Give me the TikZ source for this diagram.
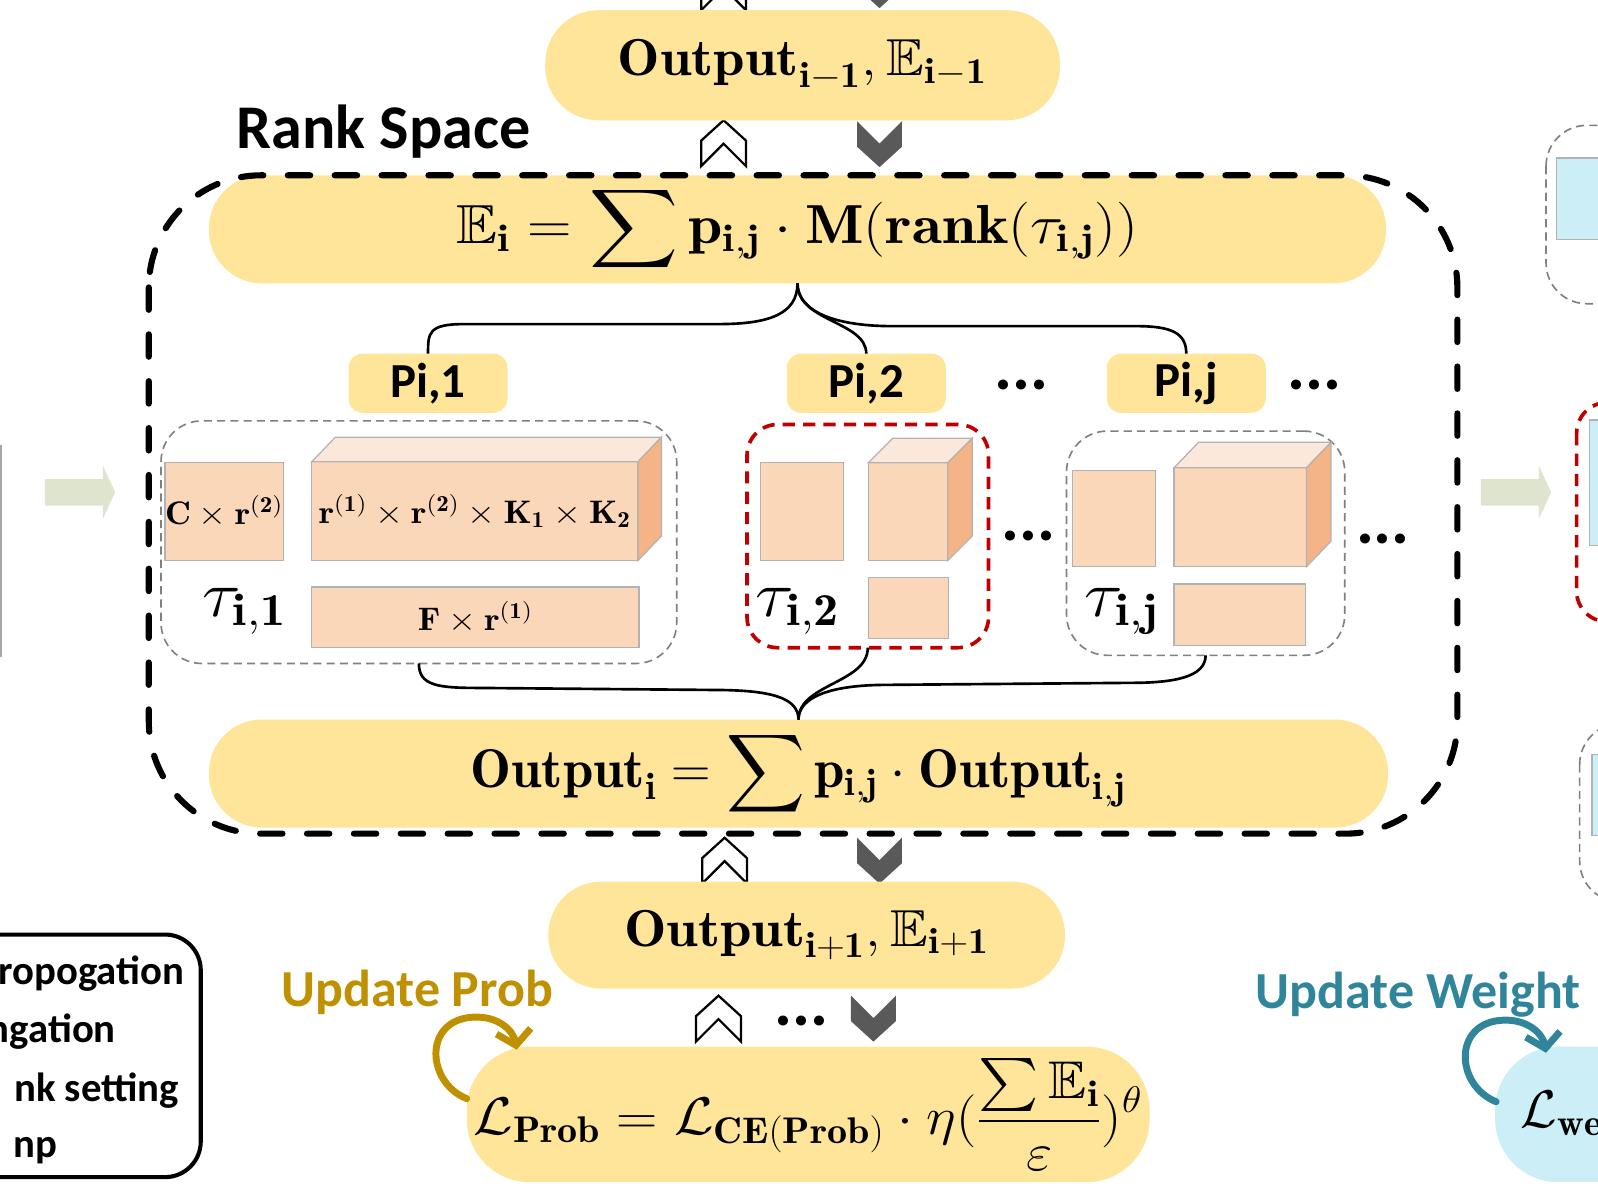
\RequirePackage{fix-cm}
\documentclass[tikz,border=0pt]{standalone}
\usepackage{graphicx}
\usepackage{amssymb}
\usepackage{fontspec}
\setsansfont{Carlito}
\usetikzlibrary{arrows.meta}

\newlength{\du}
\setlength{\du}{0.5pt}

\definecolor{pillyellow}{RGB}{255,229,153}
\definecolor{tensorfront}{RGB}{250,215,185}
\definecolor{tensortop}{RGB}{252,232,218}
\definecolor{tensorside}{RGB}{245,180,135}
\definecolor{tensorline}{RGB}{178,178,178}
\definecolor{groupgrey}{RGB}{128,128,128}
\definecolor{groupred}{RGB}{192,0,0}
\definecolor{flowsage}{RGB}{222,228,206}
\definecolor{chevgrey}{RGB}{89,89,89}
\definecolor{probgold}{RGB}{191,144,0}
\definecolor{weightteal}{RGB}{49,133,155}
\definecolor{weightblue}{RGB}{204,238,246}

\tikzset{
  pill/.style={fill=pillyellow, rounded corners=52\du, inner sep=0pt, outer sep=0pt},
  pbox/.style={fill=pillyellow, rounded corners=14\du, minimum width=156\du, minimum height=58\du,
    inner sep=0pt, outer sep=0pt, font=\sffamily\bfseries\fontsize{24}{28}\selectfont},
  tensor/.style={fill=tensorfront, draw=tensorline, line width=0.6pt, inner sep=0pt, outer sep=0pt,
    font=\fontsize{16}{18}\selectfont},
  tensortopface/.style={fill=tensortop, draw=tensorline, line width=0.6pt},
  tensorsideface/.style={fill=tensorside, draw=tensorline, line width=0.6pt},
  greygroup/.style={draw=groupgrey, dash pattern=on 4pt off 2.5pt, line width=0.8pt, rounded corners=40\du,
    inner sep=0pt, outer sep=0pt},
  redgroup/.style={draw=groupred, dash pattern=on 6pt off 4pt, line width=1.8pt, rounded corners=30\du,
    inner sep=0pt, outer sep=0pt},
  rankspace/.style={draw=black, line width=3pt, dash pattern=on 11pt off 12pt, line cap=round,
    rounded corners=110\du},
  brace/.style={draw=black, line width=1.3pt},
  taulabel/.style={font=\fontsize{32}{36}\selectfont, inner sep=0pt},
  dotsrow/.style={font=\sffamily\bfseries\fontsize{33}{35}\selectfont, inner sep=0pt},
  probloop/.style={draw=probgold, line width=3.4pt, line cap=round, -{Straight Barb[length=7pt,width=17pt]}},
  weightloop/.style={draw=weightteal, line width=3.4pt, line cap=round, -{Straight Barb[length=7pt,width=17pt]}},
  legendtext/.style={anchor=base east, inner sep=0pt, font=\sffamily\bfseries\fontsize{20}{24}\selectfont},
  chevup/.pic={\filldraw[fill=white, draw=black, line width=1.1pt, line join=miter]
    (-22\du,-45\du) -- (-22\du,-20\du) -- (0\du,0\du) -- (22\du,-20\du) -- (22\du,-45\du) -- (0\du,-23\du) -- cycle;},
  chevdown/.pic={\fill[chevgrey]
    (-22\du,0\du) -- (0\du,-22\du) -- (22\du,0\du) -- (22\du,-25\du) -- (0\du,-45\du) -- (-22\du,-25\du) -- cycle;},
  flowarrow/.pic={\fill[flowsage]
    (0\du,-13\du) -- (57\du,-13\du) -- (57\du,-26\du) -- (69\du,0\du) -- (57\du,26\du) -- (57\du,13\du) -- (0\du,13\du) -- cycle;}
}

\begin{document}
\begin{tikzpicture}
\pgftransformxscale{1.000000}
\pgftransformyscale{-1.000000}
\useasboundingbox (0\du,0\du) rectangle (1568\du,1175\du);

% chevrons between layers
\pic at (710\du,-35\du) {chevup};
\pic at (863\du,-37\du) {chevdown};
\pic at (710\du,118\du) {chevup};
\pic at (863\du,119\du) {chevdown};
\pic at (711\du,822\du) {chevup};
\pic at (863\du,822\du) {chevdown};
\pic at (705\du,977\du) {chevup};
\pic at (857\du,977\du) {chevdown};
\node[dotsrow] (layerdots) at (786\du,1002\du) {...};

% flow arrows
\pic at (44\du,483\du) {flowarrow};
\pic at (1453\du,483\du) {flowarrow};
\draw[groupgrey!70, line width=1pt] (1\du,437\du) -- (1\du,645\du);

% layer nodes
\node[pill, minimum width=505\du, minimum height=108\du, font=\fontsize{25.5}{28}\selectfont] (outprev) at (787.5\du,64\du) {\scalebox{1.09}[1]{$\mathbf{Output}_{\mathbf{i-1}},\mathbb{E}_{\mathbf{i-1}}$}};
\node[anchor=base west, inner sep=0pt, font=\sffamily\bfseries\fontsize{30.5}{34}\selectfont] (ranklabel) at (232\du,146\du) {Rank Space};
\node[pill, minimum width=1155\du, minimum height=106\du, font=\fontsize{27}{30}\selectfont] (esum) at (782.5\du,225\du) {\scalebox{1.12}[1]{$\displaystyle\mathbb{E}_{\mathbf{i}}=\sum\mathbf{p}_{\mathbf{i,j}}\cdot\mathbf{M}\mathbf{(}\mathbf{rank}\mathbf{(}\tau_{\mathbf{i,j}}\mathbf{))}$}};
\node[pill, minimum width=1157\du, minimum height=106\du, font=\fontsize{26.8}{30}\selectfont] (outi) at (783.5\du,759\du) {$\displaystyle\mathbf{Output}_{\mathbf{i}}=\sum\mathbf{p}_{\mathbf{i,j}}\cdot\mathbf{Output}_{\mathbf{i,j}}$};
\node[pill, minimum width=507\du, minimum height=105\du, font=\fontsize{25.5}{28}\selectfont] (outnext) at (791.5\du,917.5\du) {\scalebox{1.09}[1]{$\mathbf{Output}_{\mathbf{i+1}},\mathbb{E}_{\mathbf{i+1}}$}};
\node[pill, rounded corners=62\du, minimum width=670\du, minimum height=133\du, font=\fontsize{26}{28}\selectfont] (lprob) at (793\du,1093.5\du) {\scalebox{1.08}[1]{$\displaystyle\mathcal{L}_{\mathbf{Prob}}=\mathcal{L}_{\mathbf{CE(Prob)}}\cdot\eta(\frac{\sum\mathbb{E}_{\mathbf{i}}}{\varepsilon})^{\theta}$}};

% probabilities
\node[pbox] (pone) at (420\du,376\du) {Pi,1};
\node[pbox] (ptwo) at (850\du,376\du) {Pi,2};
\node[pbox] (pj) at (1164\du,376\du) {Pi,j};
\node[dotsrow] (pdotsa) at (1002\du,378\du) {...};
\node[dotsrow] (pdotsb) at (1290\du,378\du) {...};

% rank settings
\node[greygroup, minimum width=506\du, minimum height=238\du] (gone) at (411\du,532\du) {};
\node[redgroup, minimum width=237\du, minimum height=219\du] (gtwo) at (851.5\du,526\du) {};
\node[greygroup, minimum width=273\du, minimum height=220\du] (gthree) at (1183\du,533\du) {};
\node[dotsrow] (gdotsa) at (1009\du,526\du) {...};
\node[dotsrow] (gdotsb) at (1357\du,529\du) {...};

\node[tensor, minimum width=114\du, minimum height=96\du] (oneleft) at (220\du,502\du) {\scalebox{1.1}[1]{$\mathbf{C}\times\mathbf{r}^{\mathbf{(2)}}$}};
\node[tensor, minimum width=320\du, minimum height=97\du] (onecore) at (466\du,501.5\du) {\raisebox{5\du}{\scalebox{1.1}[1]{$\mathbf{r}^{\mathbf{(1)}}\times\mathbf{r}^{\mathbf{(2)}}\times\mathbf{K}_{\mathbf{1}}\times\mathbf{K}_{\mathbf{2}}$}}};
\fill[tensortopface] (onecore.north west) -- ++(23\du,-24\du) -- ++(320\du,0\du) -- (onecore.north east) -- cycle;
\fill[tensorsideface] (onecore.north east) -- ++(23\du,-24\du) -- ++(0\du,97\du) -- (onecore.south east) -- cycle;
\node[tensor, minimum width=321\du, minimum height=59\du] (oneright) at (466.5\du,605.5\du) {\scalebox{1.1}[1]{$\mathbf{F}\times\mathbf{r}^{\mathbf{(1)}}$}};
\node[taulabel] (tauone) at (240\du,600\du) {\scalebox{1.1}[1]{$\tau_{\mathbf{i,1}}$}};

\node[tensor, minimum width=82\du, minimum height=96\du] (twoleft) at (787\du,502\du) {};
\node[tensor, minimum width=78\du, minimum height=96\du] (twocore) at (891\du,502\du) {};
\fill[tensortopface] (twocore.north west) -- ++(24\du,-24\du) -- ++(78\du,0\du) -- (twocore.north east) -- cycle;
\fill[tensorsideface] (twocore.north east) -- ++(24\du,-24\du) -- ++(0\du,96\du) -- (twocore.south east) -- cycle;
\node[tensor, minimum width=79\du, minimum height=60\du] (tworight) at (891.5\du,596.5\du) {};
\node[taulabel] (tautwo) at (783\du,600\du) {\scalebox{1.1}[1]{$\tau_{\mathbf{i,2}}$}};

\node[tensor, minimum width=82\du, minimum height=94\du] (jleft) at (1093\du,509\du) {};
\node[tensor, minimum width=130\du, minimum height=97\du] (jcore) at (1217\du,507.5\du) {};
\fill[tensortopface] (jcore.north west) -- ++(24\du,-25\du) -- ++(130\du,0\du) -- (jcore.north east) -- cycle;
\fill[tensorsideface] (jcore.north east) -- ++(24\du,-25\du) -- ++(0\du,97\du) -- (jcore.south east) -- cycle;
\node[tensor, minimum width=129\du, minimum height=60\du] (jright) at (1216.5\du,603\du) {};
\node[taulabel] (tauj) at (1101\du,600\du) {\scalebox{1.1}[1]{$\tau_{\mathbf{i,j}}$}};

% braces
\coordinate (topbraceL) at (705\du,318\du);
\coordinate (topbraceLL) at (455\du,318\du);
\coordinate (topbraceR) at (875\du,320\du);
\coordinate (topbraceRR) at (1115\du,320\du);
\draw[brace] (esum.south) .. controls +(0\du,30\du) and +(50\du,0\du) .. (topbraceL) -- (topbraceLL) .. controls +(-35\du,0\du) and +(0\du,-20\du) .. (pone.north);
\draw[brace] (esum.south) .. controls +(0\du,38\du) and +(0\du,-32\du) .. (ptwo.north);
\draw[brace] (esum.south) .. controls +(0\du,30\du) and +(-50\du,0\du) .. (topbraceR) -- (topbraceRR) .. controls +(35\du,0\du) and +(0\du,-20\du) .. (pj.north);

\coordinate (botbraceL) at (470\du,675\du);
\coordinate (botbraceLL) at (700\du,677\du);
\coordinate (botbraceR) at (1110\du,670\du);
\coordinate (botbraceRR) at (870\du,672\du);
\draw[brace] (gone.south) .. controls +(0\du,22\du) and +(-40\du,0\du) .. (botbraceL) -- (botbraceLL) .. controls +(55\du,0\du) and +(0\du,-22\du) .. (outi.north);
\draw[brace] (gtwo.south) .. controls +(0\du,35\du) and +(0\du,-35\du) .. (outi.north);
\draw[brace] (gthree.south) .. controls +(0\du,22\du) and +(40\du,0\du) .. (botbraceR) -- (botbraceRR) .. controls +(-55\du,0\du) and +(0\du,-22\du) .. (outi.north);

% rank space frame
\draw[rankspace] (146\du,172\du) rectangle (1430\du,818\du);

% updates
\node[anchor=base west, inner sep=0pt, text=probgold, font=\sffamily\bfseries\fontsize{25.5}{30}\selectfont] (updprob) at (276\du,988\du) {Update Prob};
\coordinate (probloopstart) at (458\du,1078\du);
\coordinate (probloopend) at (507\du,1030\du);
\draw[probloop] (probloopstart) .. controls (418\du,1062\du) and (415\du,1000\du) .. (465\du,998\du) .. controls (490\du,997\du) and (504\du,1012\du) .. (probloopend);

\node[fill=weightblue, rounded corners=62\du, minimum width=260\du, minimum height=133\du, inner sep=0pt] (lweight) at (1597\du,1093.5\du) {};
\node[anchor=west, inner sep=0pt, font=\fontsize{26}{30}\selectfont] (lweighttext) at (1492\du,1093\du) {$\mathcal{L}_{\mathbf{we}}$};
\node[anchor=base west, inner sep=0pt, text=weightteal, font=\sffamily\bfseries\fontsize{25.5}{30}\selectfont] (updweight) at (1232\du,990\du) {Update Weight};
\coordinate (weightloopstart) at (1468\du,1081\du);
\coordinate (weightloopend) at (1517\du,1033\du);
\draw[weightloop] (weightloopstart) .. controls (1428\du,1065\du) and (1425\du,1003\du) .. (1475\du,1001\du) .. controls (1500\du,1000\du) and (1514\du,1015\du) .. (weightloopend);

% legend
\draw[line width=2pt, rounded corners=35\du] (-60\du,917\du) rectangle (197\du,1155\du);
\node[legendtext] (legendone) at (181\du,966\du) {ropogation};
\node[legendtext] (legendtwo) at (114\du,1023\du) {ngation};
\node[legendtext] (legendthree) at (176\du,1081\du) {nk setting};
\node[legendtext] (legendfour) at (57\du,1136\du) {np};

% neighbouring layer
\draw[greygroup] (1517\du,123\du) rectangle (1660\du,298\du);
\draw[tensor, fill=weightblue] (1527\du,155\du) rectangle (1660\du,235\du);
\draw[redgroup] (1547\du,395\du) rectangle (1660\du,610\du);
\draw[tensor, fill=weightblue] (1560\du,412\du) rectangle (1660\du,535\du);
\draw[greygroup] (1550\du,710\du) rectangle (1660\du,885\du);
\draw[tensor, fill=weightblue] (1562\du,740\du) rectangle (1660\du,820\du);
\end{tikzpicture}
\end{document}
